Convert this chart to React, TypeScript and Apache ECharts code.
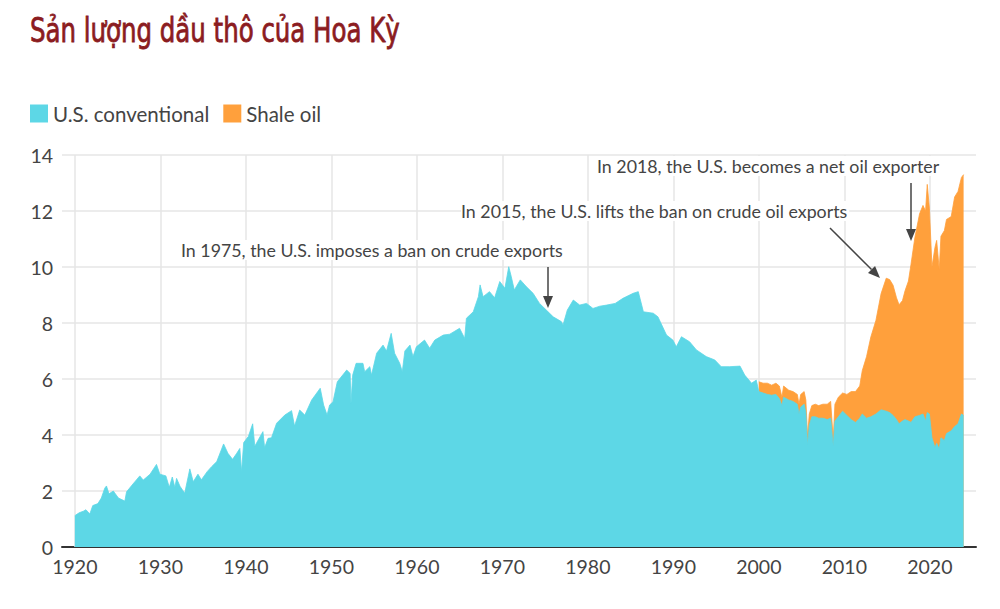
import React, { useEffect, useRef } from "react";
import * as echarts from "echarts";

// ---- Data (million barrels per day) ----
const earlyYears = [
  1920.0, 1920.5, 1921.0, 1921.3, 1921.75, 1922.1, 1922.7, 1923.1, 1923.5, 1923.7,
  1924.0, 1924.5, 1925.1, 1925.85, 1926.05, 1926.8, 1927.6, 1928.0, 1928.8, 1929.55,
  1929.95, 1930.65, 1931.05, 1931.4, 1931.7, 1931.9, 1932.3, 1932.85, 1933.45, 1933.85,
  1934.4, 1934.8, 1935.5, 1936.0, 1936.6, 1937.4, 1937.9, 1938.45, 1938.9, 1939.3,
  1939.5, 1939.75, 1940.3, 1940.8, 1941.05, 1941.5, 1942.0, 1942.2, 1942.6, 1943.0,
  1943.6, 1944.55, 1945.35, 1945.7, 1946.3, 1946.9, 1947.7, 1948.7, 1949.1, 1949.5,
  1949.8, 1950.2, 1950.7, 1951.8, 1952.2, 1952.3, 1952.5, 1952.9, 1953.7, 1953.9,
  1954.5, 1954.7, 1955.3, 1956.05, 1956.45, 1957.0, 1957.4, 1958.0, 1958.3, 1958.6,
  1959.2, 1959.55, 1959.95, 1960.9, 1961.5, 1962.1, 1963.1, 1963.85, 1965.0, 1965.6,
  1965.8, 1966.6, 1967.2, 1967.4, 1967.75, 1968.5, 1969.1, 1969.7, 1970.3, 1970.75,
  1971.05, 1971.4, 1972.1, 1972.8, 1973.6, 1974.35, 1975.15, 1975.95, 1976.9, 1977.1,
  1977.6, 1978.3, 1979.05, 1979.85, 1980.6, 1981.4, 1982.2, 1983.2, 1984.1, 1985.3,
  1985.9, 1986.5, 1987.65, 1988.2, 1989.2, 1989.95, 1990.35, 1990.95, 1991.9, 1992.7,
  1993.85, 1994.85, 1995.6, 1996.6, 1997.8, 1998.35, 1999.15, 1999.7,
];
const earlyConventional = [
  1.12, 1.22, 1.28, 1.33, 1.18, 1.48, 1.55, 1.75, 2.1, 2.18,
  1.9, 2.0, 1.75, 1.64, 1.97, 2.25, 2.54, 2.39, 2.6, 2.95,
  2.6, 2.54, 2.13, 2.5, 2.13, 2.45, 2.17, 1.92, 2.79, 2.33,
  2.6, 2.4, 2.7, 2.87, 3.05, 3.68, 3.35, 3.13, 3.33, 3.52,
  2.69, 3.73, 3.95, 4.4, 3.6, 3.85, 4.12, 3.55, 3.88, 3.9,
  4.42, 4.71, 4.87, 4.32, 4.89, 4.71, 5.25, 5.67, 5.07, 4.71,
  5.07, 5.19, 5.9, 6.32, 6.2, 5.13, 6.14, 6.56, 6.56, 6.26,
  6.44, 6.14, 6.92, 7.21, 7.0, 7.63, 6.92, 6.56, 6.26, 7.0,
  7.21, 6.8, 7.15, 7.39, 7.1, 7.39, 7.57, 7.6, 7.81, 7.45,
  8.17, 8.4, 8.94, 9.36, 8.94, 9.12, 8.9, 9.48, 9.24, 10.01,
  9.65, 9.18, 9.54, 9.3, 9.06, 8.7, 8.46, 8.22, 8.05, 7.93,
  8.46, 8.82, 8.64, 8.7, 8.52, 8.6, 8.64, 8.7, 8.88, 9.06,
  9.12, 8.4, 8.35, 8.22, 7.57, 7.39, 7.15, 7.51, 7.33, 7.04,
  6.8, 6.68, 6.44, 6.44, 6.46, 6.14, 5.85, 5.96,
];
const modernYears = [
  2000.0, 2000.5, 2001.0, 2001.5, 2002.0, 2002.4, 2002.7, 2002.9, 2003.5, 2004.0,
  2004.5, 2004.7, 2004.9, 2005.3, 2005.5, 2005.7, 2005.9, 2006.2, 2006.6, 2007.0,
  2007.5, 2008.0, 2008.4, 2008.7, 2008.9, 2009.3, 2009.8, 2010.3, 2010.8, 2011.3,
  2011.8, 2012.1, 2012.6, 2013.1, 2013.7, 2014.3, 2014.9, 2015.3, 2015.7, 2016.1,
  2016.4, 2016.8, 2017.1, 2017.5, 2017.8, 2018.25, 2018.8, 2019.2, 2019.5, 2019.7,
  2019.95, 2020.25, 2020.6, 2020.8, 2021.1, 2021.3, 2021.7, 2021.95, 2022.5, 2022.9,
  2023.3, 2023.7, 2023.95,
];
const modernConventional = [
  5.55, 5.5, 5.45, 5.42, 5.45, 5.3, 5.05, 5.35, 5.25, 5.2,
  5.1, 4.75, 5.0, 5.1, 4.8, 3.65, 4.35, 4.65, 4.65, 4.6,
  4.6, 4.55, 4.6, 3.6, 4.5, 4.65, 4.85, 4.7, 4.55, 4.45,
  4.6, 4.75, 4.6, 4.65, 4.75, 4.9, 4.85, 4.8, 4.7, 4.55,
  4.4, 4.5, 4.55, 4.5, 4.45, 4.65, 4.7, 4.75, 4.5, 4.8,
  4.75, 3.9, 3.55, 3.7, 3.5, 3.9, 3.8, 4.05, 4.15, 4.3,
  4.4, 4.75, 4.7,
];
const modernShale = [
  0.35, 0.35, 0.4, 0.36, 0.4, 0.45, 0.3, 0.4, 0.35, 0.35,
  0.35, 0.35, 0.45, 0.45, 0.45, 0.3, 0.4, 0.4, 0.45, 0.45,
  0.5, 0.55, 0.6, 0.25, 0.6, 0.7, 0.65, 0.75, 1.0, 1.1,
  1.15, 1.55, 2.2, 2.85, 3.35, 4.15, 4.75, 4.75, 4.65, 4.35,
  4.25, 4.3, 4.6, 5.0, 5.65, 6.4, 7.2, 7.45, 7.5, 8.15,
  7.35, 6.1, 7.15, 7.25, 6.4, 7.2, 7.5, 7.65, 7.65, 8.2,
  8.3, 8.45, 8.6,
];
const xTickYears = [1920, 1930, 1940, 1950, 1960, 1970, 1980, 1990, 2000, 2010, 2020];
const seriesNames = ["U.S. conventional", "Shale oil"];
const titleText = "Sản lượng dầu thô của Hoa Kỳ";
const notes = [
  "In 1975, the U.S. imposes a ban on crude exports",
  "In 2015, the U.S. lifts the ban on crude oil exports",
  "In 2018, the U.S. becomes a net oil exporter",
];

const CYAN = "#5dd7e6";
const ORANGE = "#ffa03c";
const TEXT = "#444444";
const FONT = "Lato, 'Open Sans', sans-serif";

function arrow(x1: number, y1: number, x2: number, y2: number) {
  const dx = x2 - x1;
  const dy = y2 - y1;
  const len = Math.sqrt(dx * dx + dy * dy);
  const ux = dx / len;
  const uy = dy / len;
  const hl = 12;
  const hw = 5;
  const bx = x2 - ux * hl;
  const by = y2 - uy * hl;
  return [
    {
      type: "line",
      shape: { x1, y1, x2: bx, y2: by },
      style: { stroke: TEXT, lineWidth: 1.5 },
      silent: true,
      z: 100,
    },
    {
      type: "polygon",
      shape: {
        points: [
          [x2, y2],
          [bx - uy * hw, by + ux * hw],
          [bx + uy * hw, by - ux * hw],
        ],
      },
      style: { fill: TEXT },
      silent: true,
      z: 100,
    },
  ];
}

export default function App() {
  const ref = useRef<HTMLDivElement>(null);

  useEffect(() => {
    if (!ref.current) return;
    const chart = echarts.init(ref.current, undefined, { renderer: "svg" });

    // Conventional output over the whole period
    const convData = [
      ...earlyYears.map((y, i) => [y, earlyConventional[i]]),
      ...modernYears.map((y, i) => [y, modernConventional[i]]),
    ];
    // Shale is drawn on top of conventional: its band runs from conventional to conventional + shale
    const shaleTopData = modernYears.map((y, i) => [y, modernConventional[i] + modernShale[i]]);

    const noteStyle = {
      fill: TEXT,
      fontSize: 17.8,
      fontFamily: FONT,
      backgroundColor: "#ffffff",
      padding: [1, 2, 1, 0],
    };

    const areaSeries = (name: string, data: number[][], color: string, z: number) => ({
      name,
      type: "line",
      data,
      symbol: "none",
      showSymbol: false,
      z,
      itemStyle: { color },
      lineStyle: { color, width: 0.8 },
      areaStyle: { color, opacity: 1 },
    });

    chart.setOption({
      animation: false,
      textStyle: { fontFamily: FONT },
      legend: {
        data: seriesNames,
        left: 30,
        top: 103,
        padding: 0,
        icon: "rect",
        itemWidth: 18,
        itemHeight: 18,
        itemGap: 14,
        textStyle: { color: TEXT, fontSize: 20.5, fontFamily: FONT },
      },
      grid: { left: 62, right: 24, top: 155, bottom: 62, containLabel: false },
      xAxis: {
        type: "value",
        min: 1918.5,
        max: 2025.4,
        axisLine: { show: true, lineStyle: { color: "#333", width: 2 } },
        axisTick: { show: false },
        splitLine: { show: false },
        axisLabel: {
          customValues: xTickYears,
          color: TEXT,
          fontSize: 19.5,
          margin: 9,
          fontFamily: FONT,
          formatter: (v: number) => String(v),
        },
      },
      yAxis: {
        type: "value",
        min: 0,
        max: 14,
        interval: 2,
        axisLine: { show: false },
        axisTick: { show: false },
        axisLabel: { color: TEXT, fontSize: 19.5, margin: 9, fontFamily: FONT },
        splitLine: { lineStyle: { color: "#e6e6e6", width: 1.5 } },
      },
      series: [
        {
          name: "grid-years",
          type: "line",
          data: [[1920, 0]],
          symbol: "none",
          lineStyle: { width: 0 },
          silent: true,
          z: 1,
          markLine: {
            silent: true,
            symbol: "none",
            z: 1,
            label: { show: false },
            lineStyle: { color: "#e6e6e6", width: 1.5, type: "solid" },
            data: xTickYears.map((y) => ({ xAxis: y })),
          },
        },
        areaSeries(seriesNames[1], shaleTopData, ORANGE, 2),
        areaSeries(seriesNames[0], convData, CYAN, 3),
      ],
      graphic: [
        {
          type: "text",
          x: 30,
          y: 30,
          scaleX: 0.8,
          style: {
            text: titleText,
            fill: "#8b1c1f",
            fontSize: 34,
            fontFamily: "'DejaVu Sans Condensed', 'DejaVu Sans', sans-serif",
            verticalAlign: "middle",
            stroke: "#8b1c1f",
            lineWidth: 0.8,
          },
          silent: true,
        },
        { type: "text", left: 181, top: 240, z: 50, style: { ...noteStyle, text: notes[0] }, silent: true },
        { type: "text", left: 461, top: 201, z: 50, style: { ...noteStyle, text: notes[1] }, silent: true },
        { type: "text", left: 597, top: 156, z: 50, style: { ...noteStyle, text: notes[2] }, silent: true },
        ...arrow(548, 267, 548, 308),
        ...arrow(830, 228, 880, 278),
        ...arrow(911, 183, 911, 241),
      ],
    });

    return () => chart.dispose();
  }, []);

  return (
    <div
      ref={ref}
      style={{ position: "fixed", left: 0, top: 0, width: 1000, height: 609, background: "#fff" }}
    />
  );
}
